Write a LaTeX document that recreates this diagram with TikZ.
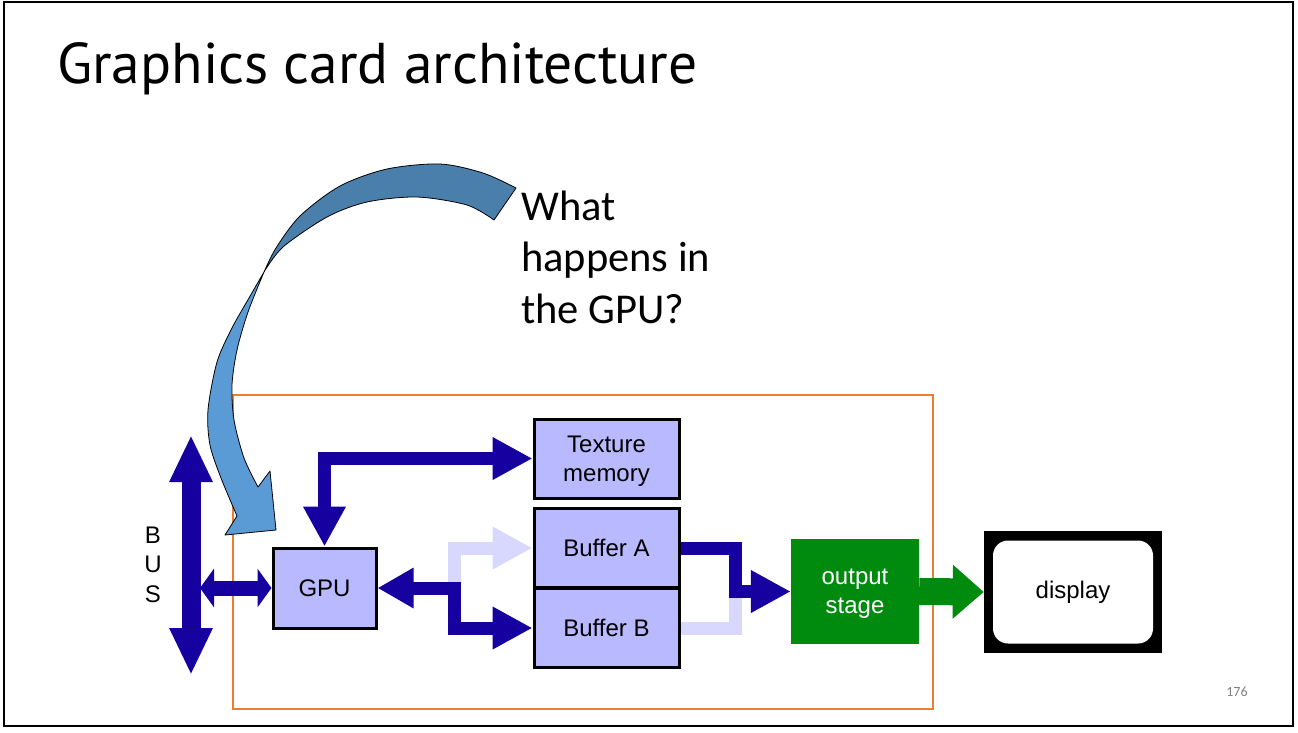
\documentclass[tikz,border=0pt]{standalone}
\usepackage{fontspec}
\setmainfont{Liberation Sans}
\newfontfamily\titlefont{PT Sans}
\newfontfamily\calfont{Carlito}
\usetikzlibrary{arrows.meta,calc}
\definecolor{darkblue}{RGB}{22,0,160}
\definecolor{lightarr}{RGB}{216,216,255}
\definecolor{boxfill}{RGB}{185,185,255}
\definecolor{grn}{RGB}{0,138,14}
\definecolor{orng}{RGB}{237,125,49}
\definecolor{arrtop}{RGB}{74,126,171}
\definecolor{arrbot}{RGB}{91,155,213}
\tikzset{
  boxfont/.style={font=\fontsize{24}{29}\selectfont},
  blk/.style={draw=black, line width=3pt, fill=boxfill, minimum width=145pt, minimum height=79pt, inner sep=0pt, align=center, boxfont},
  pipe/.style={line width=13pt, darkblue, line join=miter},
  lpipe/.style={line width=13pt, lightarr, line join=miter},
  bigtip/.tip={Triangle[width=40pt,length=40pt]},
  txt/.style={inner sep=0pt}
}
\begin{document}
\begin{tikzpicture}[x=1pt,y=-1pt]
\useasboundingbox (0,0) rectangle (1298,732);
\draw[line width=2pt] (4,2) rectangle (1293,726);
\node[txt, anchor=base west, font=\titlefont\fontsize{57.5}{60}\selectfont] (title) at (57,83) {Graphics card architecture};
% orange card outline
\draw[orng, line width=2pt] (233,395) rectangle (933,709);

% question (base anchor = last line)
\node[txt, anchor=base west, align=left, font=\calfont\fontsize{42.5}{51.5}\selectfont] (q) at (521,323) {What\\happens in\\the GPU?};

% curved arrow
\filldraw[fill=arrtop, draw=black, line width=0.8pt, line join=round]
  plot[smooth] coordinates {(516,188) (483,173) (440,164) (387,169) (340,186) (300,216) (276,248) (264,272)}
  -- plot[smooth] coordinates {(264,272) (283,247) (327,217) (367,202) (417,197) (467,205) (494,220)}
  -- cycle;
\filldraw[fill=arrbot, draw=black, line width=0.8pt, line join=round]
  plot[smooth] coordinates {(264,272) (249,298) (232,328) (217,362) (208,410) (210,445) (221,478) (237,516)}
  -- (225,535) -- (276,530) -- (270,471) -- (258,487)
  -- plot[smooth] coordinates {(258,487) (244,458) (234,420) (232,385) (237,350) (248,312) (264,272)}
  -- cycle;

% boxes
\node[blk, text depth=0pt] (tex) at (606.5,458.5) {Texture\\memory};
\node[blk] (bufA) at (606.5,548) {Buffer A};
\node[blk] (bufB) at (606.5,628) {Buffer B};
\node[blk, minimum width=103pt, minimum height=80pt] (gpu) at (324.5,588) {GPU};
\node[fill=grn, minimum width=128pt, minimum height=105pt, inner sep=0pt, align=center, text=white, boxfont, text depth=0pt] (out) at (855,591.5) {output\\stage};
\node[fill=black, minimum width=178pt, minimum height=122pt, inner sep=0pt] (dispbg) at (1073,592) {};
\node[fill=white, rounded corners=15pt, minimum width=160pt, minimum height=103pt, inner sep=0pt, boxfont] (disp) at (1073,592) {display};

% BUS
\node[txt, anchor=base, align=center, font=\fontsize{24}{29.5}\selectfont] (bus) at (153,602) {B\\U\\S};
\coordinate (busT) at (191,435);
\coordinate (busB) at (191,675);
\coordinate (busR) at (200,588);
\draw[line width=19pt, darkblue, {Triangle[width=40pt,length=47pt]}-{Triangle[width=40pt,length=47pt]}] (busT) -- (busB);
\draw[line width=15pt, darkblue, {Triangle[width=38pt,length=14pt]}-{Triangle[width=38pt,length=14pt]}] (busR) -- (gpu.west);

% GPU <-> texture
\draw[pipe, bigtip-bigtip] (gpu.north) |- (tex.west);

% GPU -> buffers
\coordinate (split) at ($(gpu.east)+(77,0)$);
\draw[lpipe, -bigtip] (split) |- (bufA.west);
\draw[pipe, {Triangle[width=38pt,length=36pt]}-bigtip] (gpu.east) -- (split) |- (bufB.west);

% buffers -> output
\coordinate (merge) at ($(bufB.east)+(55,-36)$);
\draw[lpipe] (bufB.east) -| (merge);
\draw[pipe, -bigtip] (bufA.east) -- ++(55,0) |- (out.west);

% output -> display
\draw[line width=27pt, grn, -{Triangle[width=52pt,length=31pt]}] (out.east) -- (dispbg.west);

\node[txt, text=gray, font=\calfont\fontsize{14}{16}\selectfont] (pg) at (1237,692) {176};
\end{tikzpicture}
\end{document}
